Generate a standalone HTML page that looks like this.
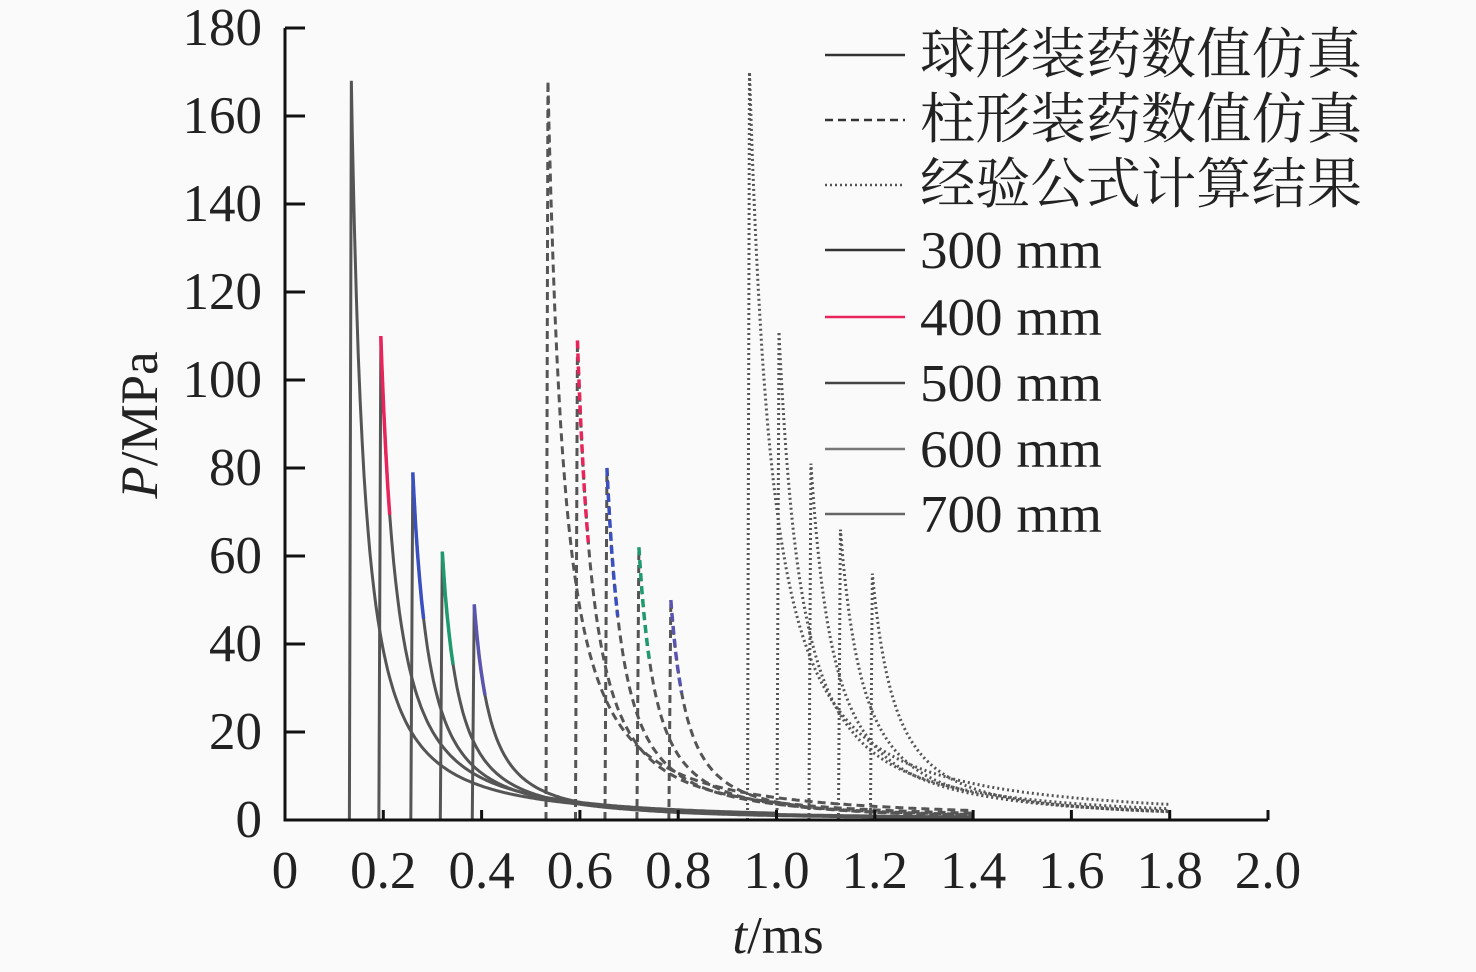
<!DOCTYPE html><html><head><meta charset="utf-8"><style>body{margin:0;background:#fff}svg{display:block}text{font-family:"Liberation Serif","Noto Serif CJK SC",serif;fill:#222}</style></head><body>
<svg id="c" width="1476" height="972"></svg>
<script>
const xTicks=[0,0.2,0.4,0.6,0.8,1.0,1.2,1.4,1.6,1.8,2.0];
const xLabels=["0","0.2","0.4","0.6","0.8","1.0","1.2","1.4","1.6","1.8","2.0"];
const yTicks=[0,20,40,60,80,100,120,140,160,180];
const distances=["300 mm","400 mm","500 mm","600 mm","700 mm"];
const sphereArrival=[0.135,0.195,0.26,0.32,0.385];
const spherePeak=[168,110,79,61,49];
const sphereEnd=[1.0,1.0,1.4,1.4,1.4];
const cylArrival=[0.535,0.595,0.655,0.72,0.785];
const cylPeak=[168,109,80,62,50];
const cylEnd=[1.4,1.4,1.4,1.4,1.4];
const empArrival=[0.945,1.005,1.07,1.13,1.195];
const empPeak=[170,111,81,66,56];
const empEnd=[1.8,1.8,1.8,1.8,1.8];
const colors=["#3a3a3a","#e8245a","#3a4fc0","#1f9a6e","#5a55b0"];
const X=v=>285+v*491.5, Y=v=>820-v*4.4;
const svg=document.getElementById('c');const NS="http://www.w3.org/2000/svg";
function mk(t,a,p){const e=document.createElementNS(NS,t);for(const k in a)e.setAttribute(k,a[k]);(p||svg).appendChild(e);return e;}
mk('rect',{x:0,y:0,width:1476,height:972,fill:'#fafafa'});
function curve(t0,pk,end,tau,dash,name,col){
  let d=`M${X(t0-0.004)},${Y(0)} L${X(t0)},${Y(pk)}`;
  for(let t=t0+0.002;t<=end;t+=0.004){const x=1+(t-t0)/tau;d+=` L${X(t).toFixed(1)},${Y(pk/Math.pow(x,1.5)).toFixed(1)}`;}
  const p=mk('path',{d,fill:'none',stroke:'#555','stroke-width':3,'stroke-dasharray':dash});
  
  
  if(col!=='#3a3a3a'){let d2=`M${X(t0)},${Y(pk)}`;for(let t=t0+0.002;t<=t0+0.022;t+=0.004){const x=1+(t-t0)/tau;d2+=` L${X(t).toFixed(1)},${Y(pk/Math.pow(x,1.5)).toFixed(1)}`;}
  const q=mk('path',{d:d2,fill:'none',stroke:col,'stroke-width':3.5,'stroke-dasharray':dash});
  
  }
}
for(let i=0;i<5;i++){
  curve(sphereArrival[i],spherePeak[i],sphereEnd[i],i?0.05:0.039,'none','sphere-sim-'+distances[i].replace(' ',''),colors[i]);
  curve(cylArrival[i],cylPeak[i],cylEnd[i],0.05,'8,5','cylinder-sim-'+distances[i].replace(' ',''),colors[i]);
  curve(empArrival[i],empPeak[i],empEnd[i],0.07,'2,3','empirical-'+distances[i].replace(' ',''),'#3a3a3a');
}
mk('path',{d:`M285,28 L285,820 L1268,820`,fill:'none',stroke:'#111','stroke-width':3});
yTicks.forEach(v=>{mk('line',{x1:285,x2:305,y1:Y(v),y2:Y(v),stroke:'#111','stroke-width':3});
 const t=mk('text',{x:262,y:Y(v)+17,'text-anchor':'end','font-size':53});t.textContent=v;
 });
xTicks.forEach((v,i)=>{mk('line',{x1:X(v),x2:X(v),y1:820,y2:810,stroke:'#111','stroke-width':3});
 const t=mk('text',{x:X(v),y:888,'text-anchor':'middle','font-size':53});t.textContent=xLabels[i];
 });
let t=mk('text',{x:778,y:953,'text-anchor':'middle','font-size':53,});t.innerHTML='<tspan font-style="italic">t</tspan>/ms';
t=mk('text',{x:0,y:0,'text-anchor':'middle','font-size':53,transform:'translate(157,425) rotate(-90)',});t.innerHTML='<tspan font-style="italic">P</tspan>/MPa';
const legTexts=["球形装药数值仿真","柱形装药数值仿真","经验公式计算结果"].concat(distances);
const legDash=['none','8,5','2,3','none','none','none','none','none'];
const legCol=['#333','#333','#555','#333','#e8245a','#444','#777','#666'];
const legY=[55,120,185,250,317,383,449,514];
legTexts.forEach((s,i)=>{const g=mk('g',{});
 mk('line',{x1:825,x2:905,y1:legY[i],y2:legY[i],stroke:legCol[i],'stroke-width':2.5,'stroke-dasharray':legDash[i]},g);
 const tx=mk('text',{x:920,y:legY[i]+18,'font-size':i<3?55:53,textLength:i<3?442:182,lengthAdjust:'spacingAndGlyphs'},g);tx.textContent=s;});
</script></body></html>
